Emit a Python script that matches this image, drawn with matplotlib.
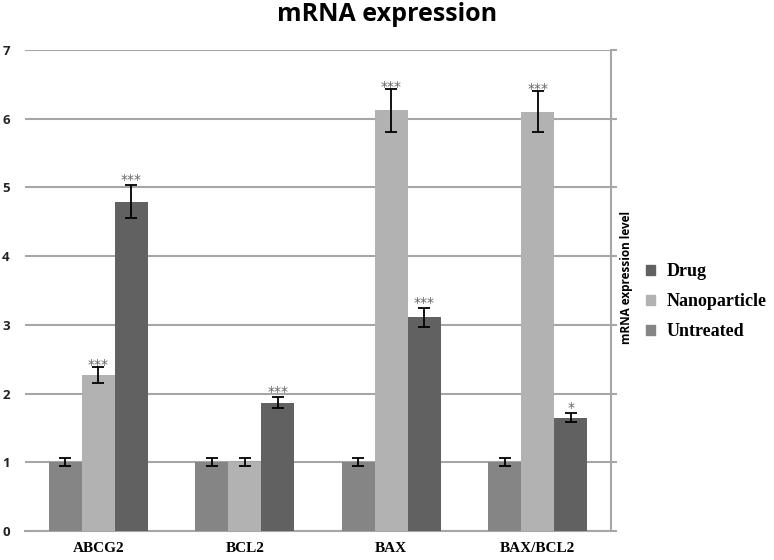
import matplotlib
matplotlib.use("Agg")
import matplotlib.pyplot as plt
import numpy as np

genes = ["ABCG2", "BCL2", "BAX", "BAX/BCL2"]
untreated = [1.0, 1.0, 1.0, 1.0]
untreated_err = [0.06, 0.06, 0.06, 0.06]
nanoparticle = [2.27, 1.0, 6.12, 6.10]
nanoparticle_err = [0.12, 0.06, 0.31, 0.30]
drug = [4.79, 1.87, 3.11, 1.65]
drug_err = [0.24, 0.08, 0.14, 0.07]
nano_stars = ["***", "", "***", "***"]
drug_stars = ["***", "***", "***", "*"]
yticks = [0, 1, 2, 3, 4, 5, 6, 7]

c_untreated = "#858585"
c_nano = "#b2b2b2"
c_drug = "#616161"
grid_c = "#a6a6a6"

fig = plt.figure(figsize=(7.74, 5.6), dpi=100)
ax = fig.add_axes([0.0323, 0.0518, 0.7571, 0.8589])

x = np.arange(len(genes))
w = 0.225
err_kw = dict(ecolor="black", elinewidth=1.3, capsize=4, capthick=1.3)

ax.bar(x - w, untreated, w, color=c_untreated, yerr=untreated_err, error_kw=err_kw, zorder=3)
ax.bar(x, nanoparticle, w, color=c_nano, yerr=nanoparticle_err, error_kw=err_kw, zorder=3)
ax.bar(x + w, drug, w, color=c_drug, yerr=drug_err, error_kw=err_kw, zorder=3)

# significance marks above the error bars
for i in range(len(genes)):
    if nano_stars[i]:
        ax.text(x[i], nanoparticle[i] + nanoparticle_err[i] - 0.07, nano_stars[i],
                ha="center", va="bottom", fontsize=10, color="#666666", zorder=4)
    if drug_stars[i]:
        ax.text(x[i] + w, drug[i] + drug_err[i] - 0.03, drug_stars[i],
                ha="center", va="bottom", fontsize=10, color="#666666", zorder=4)

ax.set_xlim(-0.5, 3.5)
ax.set_ylim(0, 7)
ax.set_yticks(yticks)
ax.yaxis.grid(True, color=grid_c, linewidth=1.5, zorder=0)
ax.set_axisbelow(True)

for s in ["left", "top"]:
    ax.spines[s].set_visible(False)
ax.spines["bottom"].set_color(grid_c)
ax.spines["bottom"].set_linewidth(1.5)
ax.spines["right"].set_color(grid_c)
ax.spines["right"].set_linewidth(1.5)

ax.tick_params(axis="y", length=0, pad=11, labelsize=9.5, labelcolor="#222222")
ax.tick_params(axis="x", length=0, pad=8)
ax.set_xticks(x)
ax.set_xticklabels(genes, fontsize=11, fontweight="bold", family="Liberation Serif")
for t in ax.get_yticklabels():
    t.set_fontweight("bold")
    t.set_family("Open Sans")

# small outward ticks on the right axis
ax2 = ax.twinx()
ax2.set_ylim(0, 7)
ax2.set_yticks(yticks)
ax2.tick_params(axis="y", length=4, color=grid_c, width=1.5, labelright=False)
for s in ["left", "top", "bottom", "right"]:
    ax2.spines[s].set_visible(False)

fig.text(0.5, 0.974, "mRNA expression", ha="center", va="center",
         fontsize=18, fontweight="bold", family="Open Sans")
fig.text(0.81, 0.505, "mRNA expression level", rotation=90, ha="center", va="center",
         fontsize=8.5, fontweight="bold", family="Open Sans")

handles = [plt.Rectangle((0, 0), 1, 1, color=c) for c in [c_drug, c_nano, c_untreated]]
fig.legend(handles, ["Drug", "Nanoparticle", "Untreated"], loc="upper left",
           bbox_to_anchor=(0.835, 0.53), frameon=False, borderpad=0, borderaxespad=0,
           handlelength=0.5, handleheight=0.5,
           handletextpad=0.6, labelspacing=0.72,
           prop=dict(family="Liberation Serif", weight="bold", size=13))

fig.savefig("out.png", dpi=100)
